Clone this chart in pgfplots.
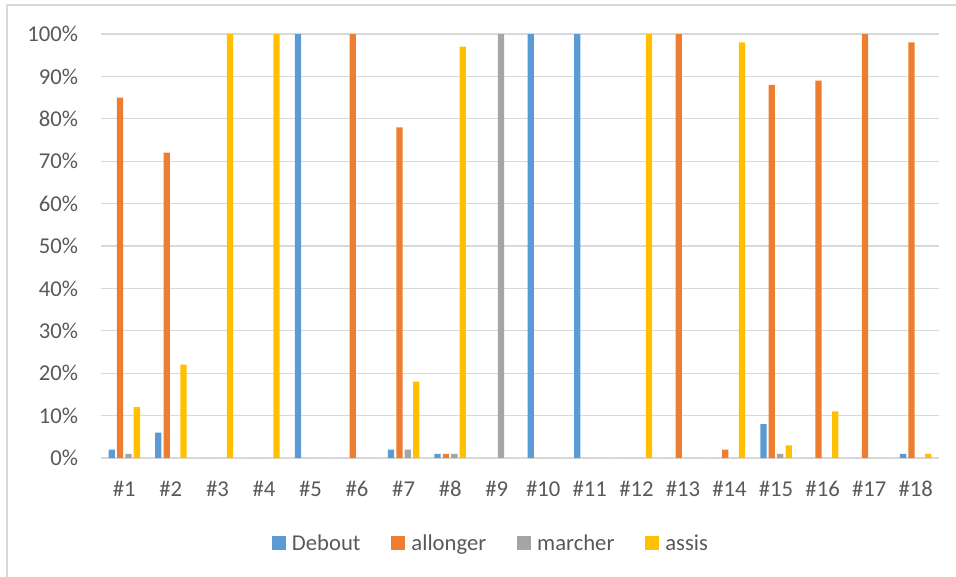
\documentclass[border=0pt]{standalone}
\usepackage{fontspec}
\setmainfont{Carlito}
\usepackage{pgfplots}
\pgfplotsset{compat=1.18}

\definecolor{cDebout}{HTML}{5B9BD5}
\definecolor{cAllonger}{HTML}{ED7D31}
\definecolor{cMarcher}{HTML}{A5A5A5}
\definecolor{cAssis}{HTML}{FFC000}
\definecolor{gridgray}{HTML}{D9D9D9}
\definecolor{txtgray}{HTML}{595959}

\begin{document}
\begin{tikzpicture}
\useasboundingbox (-75.75pt,-88.5pt) rectangle (641.25pt,343.5pt);
% chart frame (only left and top edges fall inside the picture)
\draw[gridgray, line width=1.5pt] (-70.5pt,-100pt) -- (-70.5pt,339.75pt) -- (660pt,339.75pt);
\begin{axis}[
    at={(0,0)}, anchor=south west,
    scale only axis,
    width=628.5pt, height=318pt,
    ybar=1.6pt, bar width=4.7pt,
    xmin=-0.5, xmax=17.5,
    ymin=0, ymax=100,
    xtick={0,...,17},
    xticklabels={\#1,\#2,\#3,\#4,\#5,\#6,\#7,\#8,\#9,\#10,\#11,\#12,\#13,\#14,\#15,\#16,\#17,\#18},
    ytick={0,10,...,100},
    yticklabel={\pgfmathprintnumber[fixed,precision=0]{\tick}\%},
    /pgf/number format/assume math mode=true,
    major tick length=0pt,
    axis line style={draw=none},
    ymajorgrids=true,
    grid style={gridgray, line width=0.9pt},
    tick label style={font=\fontsize{17}{20}\selectfont, text=txtgray, inner sep=0pt},
    yticklabel style={xshift=-17pt},
    xticklabel style={yshift=-17pt},
    legend columns=4,
    legend style={
        at={(0.464,-0.202)}, anchor=center,
        draw=none, fill=none,
        font=\fontsize{17}{20}\selectfont, text=txtgray,
        nodes={inner sep=0pt},
        /tikz/every odd column/.append style={column sep=4.8pt},
        /tikz/every even column/.append style={column sep=23pt},
    },
    legend image code/.code={\fill[#1] (0pt,-4.4pt) rectangle (10.4pt,6pt);},
]
\addplot[draw=none, fill=cDebout] coordinates {
    (0,2)(1,6)(2,0)(3,0)(4,100)(5,0)(6,2)(7,1)(8,0)
    (9,100)(10,100)(11,0)(12,0)(13,0)(14,8)(15,0)(16,0)(17,1)};
\addplot[draw=none, fill=cAllonger] coordinates {
    (0,85)(1,72)(2,0)(3,0)(4,0)(5,100)(6,78)(7,1)(8,0)
    (9,0)(10,0)(11,0)(12,100)(13,2)(14,88)(15,89)(16,100)(17,98)};
\addplot[draw=none, fill=cMarcher] coordinates {
    (0,1)(1,0)(2,0)(3,0)(4,0)(5,0)(6,2)(7,1)(8,100)
    (9,0)(10,0)(11,0)(12,0)(13,0)(14,1)(15,0)(16,0)(17,0)};
\addplot[draw=none, fill=cAssis] coordinates {
    (0,12)(1,22)(2,100)(3,100)(4,0)(5,0)(6,18)(7,97)(8,0)
    (9,0)(10,0)(11,100)(12,0)(13,98)(14,3)(15,11)(16,0)(17,1)};
\legend{Debout, allonger, marcher, assis}
\end{axis}
\end{tikzpicture}
\end{document}
